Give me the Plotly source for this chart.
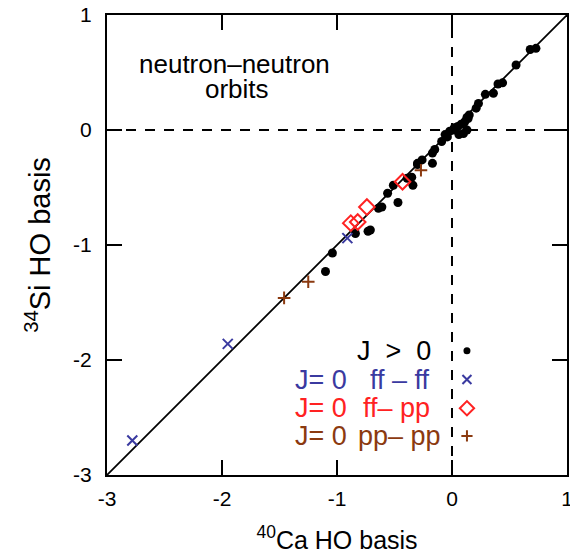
import plotly.graph_objects as go

# J > 0 points (x: 40Ca HO basis, y: 34Si HO basis)
jpos_x = [0.68, 0.73, 0.557, 0.44, 0.40, 0.36, 0.29, 0.23, 0.21, 0.15, 0.13,
          0.14, 0.13, 0.01, -0.04, -0.09, -0.15, -0.17, -0.17, -0.26, -0.30,
          0.10, 0.05, 0.02, 0.08, -0.02, 0.06, 0.11, -0.06,
          -0.34, -0.35, -0.39, -0.51, -0.47, -0.56, -0.61, -0.64, -0.30,
          -0.71, -0.84, -0.73, -1.04, -1.10]
jpos_y = [0.70, 0.71, 0.565, 0.41, 0.40, 0.32, 0.31, 0.23, 0.19, 0.13, 0.11,
          0.10, 0.00, 0.00, -0.06, -0.10, -0.17, -0.29, -0.20, -0.26, -0.29,
          -0.03, 0.03, 0.02, 0.05, -0.01, -0.04, 0.07, -0.04,
          -0.48, -0.41, -0.42, -0.48, -0.63, -0.55, -0.67, -0.68, -0.30,
          -0.87, -0.90, -0.88, -1.07, -1.23]

# J = 0 ff-ff
ffff_x = [-2.78, -1.95, -0.91]
ffff_y = [-2.70, -1.86, -0.94]

# J = 0 ff-pp
ffpp_x = [-0.43, -0.74, -0.88, -0.82]
ffpp_y = [-0.45, -0.67, -0.81, -0.80]

# J = 0 pp-pp
pppp_x = [-0.27, -1.25, -1.46]
pppp_y = [-0.35, -1.32, -1.46]

legend_left = ["", "J= 0", "J= 0", "J= 0"]
legend_right = ["J&nbsp; >&nbsp; 0", "ff – ff", "ff– pp", "pp– pp"]
legend_y = [-1.92, -2.17, -2.42, -2.66]
legend_marker_x = 0.13
legend_left_x = -1.383
legend_right_x = [-0.165, -0.174, -0.174, -0.078]

BLUE = "#3a3aa0"
RED = "#ff2222"
BROWN = "#8b3a10"
colors = ["black", BLUE, RED, BROWN]

ticks = [-3, -2, -1, 0, 1]

fig = go.Figure()

# diagonal y = x
fig.add_trace(go.Scatter(x=[-3, 1], y=[-3, 1], mode="lines",
                         line=dict(color="black", width=1.8), showlegend=False, hoverinfo="skip"))

fig.add_trace(go.Scatter(x=jpos_x, y=jpos_y, mode="markers",
                         marker=dict(symbol="circle", size=9, color="black"), showlegend=False))
fig.add_trace(go.Scatter(x=ffff_x, y=ffff_y, mode="markers",
                         marker=dict(symbol="x-thin", size=10, line=dict(color=BLUE, width=2)), showlegend=False))
fig.add_trace(go.Scatter(x=ffpp_x, y=ffpp_y, mode="markers",
                         marker=dict(symbol="diamond-open", size=12, color=RED, line=dict(color=RED, width=2)), showlegend=False))
fig.add_trace(go.Scatter(x=pppp_x, y=pppp_y, mode="markers",
                         marker=dict(symbol="cross-thin", size=9, line=dict(color=BROWN, width=2)), showlegend=False))

# legend markers
fig.add_trace(go.Scatter(x=[legend_marker_x], y=[legend_y[0]], mode="markers",
                         marker=dict(symbol="circle", size=7, color="black"), showlegend=False))
fig.add_trace(go.Scatter(x=[legend_marker_x], y=[legend_y[1]], mode="markers",
                         marker=dict(symbol="x-thin", size=9, line=dict(color=BLUE, width=2)), showlegend=False))
fig.add_trace(go.Scatter(x=[legend_marker_x], y=[legend_y[2]], mode="markers",
                         marker=dict(symbol="diamond-open", size=11, color=RED, line=dict(color=RED, width=2)), showlegend=False))
fig.add_trace(go.Scatter(x=[legend_marker_x], y=[legend_y[3]], mode="markers",
                         marker=dict(symbol="cross-thin", size=8, line=dict(color=BROWN, width=2)), showlegend=False))

for left, right, ly, rx, c in zip(legend_left, legend_right, legend_y, legend_right_x, colors):
    if left:
        fig.add_annotation(x=legend_left_x, y=ly, text=left, showarrow=False, xanchor="left",
                           yanchor="middle", font=dict(size=27, color=c))
    fig.add_annotation(x=rx, y=ly, text=right, showarrow=False, xanchor="right",
                       yanchor="middle", font=dict(size=27, color=c))

fig.add_annotation(x=-1.89, y=0.575, text="neutron–neutron", showarrow=False,
                   xanchor="center", yanchor="middle", font=dict(size=26, color="black"))
fig.add_annotation(x=-1.87, y=0.36, text="orbits", showarrow=False,
                   xanchor="center", yanchor="middle", font=dict(size=26, color="black"))

# dashed zero lines
fig.add_shape(type="line", x0=0, x1=0, y0=-3, y1=1, line=dict(color="black", width=2, dash="10px,9px"))
fig.add_shape(type="line", x0=-3, x1=1, y0=0, y1=0, line=dict(color="black", width=2, dash="10px,9px"))

axis_common = dict(range=[-3, 1], tickvals=ticks, ticktext=[str(t) for t in ticks],
                   ticks="inside", ticklen=15, tickwidth=2, tickcolor="black",
                   showline=True, linewidth=2, linecolor="black", mirror="ticks",
                   showgrid=False, zeroline=False, ticklabeloverflow="allow",
                   automargin=False, tickfont=dict(size=21, color="black"))

fig.update_layout(
    width=570, height=556,
    margin=dict(l=107, r=3, t=15, b=81),
    paper_bgcolor="white", plot_bgcolor="white",
    font=dict(family="Liberation Sans, Arial, sans-serif", color="black"),
    xaxis=dict(**axis_common, ticklabelstandoff=4,
               title=dict(text="<sup>40</sup>Ca HO basis", font=dict(size=25), standoff=22)),
    yaxis=dict(**axis_common, ticklabelstandoff=9,
               title=dict(text="<sup>34</sup>Si HO basis", font=dict(size=29), standoff=14)),
    showlegend=False,
)

fig.write_html("out.html")
